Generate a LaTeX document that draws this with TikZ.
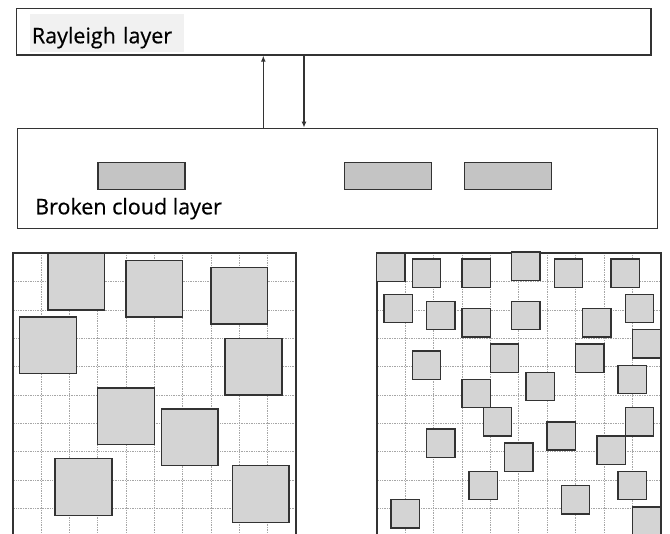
\documentclass[tikz,border=0pt]{standalone}
\usepackage{fontspec}
\setmainfont{Open Sans}
\newfontfamily\layerfont[FakeBold=0.5]{Open Sans}
\usepackage{xcolor}
\usepackage{tikz}
\usetikzlibrary{arrows.meta}

\definecolor{boxgray}{HTML}{333333}
\definecolor{cloudgray}{HTML}{C4C4C4}
\definecolor{cellgray}{HTML}{D4D4D4}
\definecolor{shadegray}{HTML}{F1F1F1}

\tikzset{
  layerbox/.style={draw=boxgray, line width=1.4pt, inner sep=0pt},
  layerlabel/.style={font=\layerfont\fontsize{21.5}{24}\selectfont, text=black, inner sep=0pt, anchor=base west},
  cloudbox/.style={draw=boxgray, fill=cloudgray, line width=1.4pt, inner sep=0pt, anchor=north west},
  arrowline/.style={draw=boxgray, line width=1.2pt},
  gridline/.style={gray!70, densely dotted, line width=0.7pt},
  panelframe/.style={draw=boxgray, line width=1.6pt},
  cell/.style={draw=boxgray, fill=cellgray, line width=1.4pt},
}

\begin{document}
\begin{tikzpicture}[x=1pt, y=-1pt, >={Latex[length=6pt, width=5pt]}]
    \useasboundingbox (0,0) rectangle (670,534);
    \clip (0,0) rectangle (670,534);

    % Upper layer and its label
    \node[layerbox, minimum width=634.3pt, minimum height=46.7pt] (rayleigh) at (333.85,31.65) {};
    \node[layerlabel, fill=shadegray, text width=150pt, align=left,
          text height=29pt, text depth=8.4pt, inner xsep=1.7pt] (rayleighlabel) at (30,43.3) {Rayleigh layer};

    % Lower layer with the broken clouds
    \node[layerbox, minimum width=640.4pt, minimum height=100pt] (broken) at (337.5,178.3) {};
    \node[layerlabel] (brokenlabel) at (35,214.3) {Broken cloud layer};
    \foreach \cx/\name in {97.3/cloudA, 343.8/cloudB, 464/cloudC}
        \node[cloudbox, minimum width=87pt, minimum height=26.7pt] (\name) at (\cx,162) {};

    % Exchange between the two layers
    \coordinate (upx) at (263.3,0);
    \coordinate (downx) at (304,0);
    \draw[->, arrowline] (broken.north -| upx) -- (rayleigh.south -| upx);
    \draw[->, arrowline] (rayleigh.south -| downx) -- (broken.north -| downx);

    % Left panel: few large cells
    \begin{scope}[shift={(12.7,253.3)}, x=28.33pt, y=-28.33pt]
        \foreach \k in {1,...,9} {
            \draw[gridline] (\k,0) -- (\k,10);
            \draw[gridline] (0,\k) -- (10,\k);
        }
        \draw[panelframe] (0,10) -- (0,0) -- (10,0) -- (10,10);
        \foreach \px/\py in {1.25/0, 4/0.25, 7/0.5, 0.25/2.25, 7.5/3,
                             3/4.75, 5.25/5.5, 1.5/7.25, 7.75/7.5}
            \draw[cell] (\px,\py) rectangle ++(2,2);
    \end{scope}

    % Right panel: many small cells
    \begin{scope}[shift={(376.7,253.3)}, x=28.4pt, y=-28.33pt]
        \foreach \k in {1,...,9} {
            \draw[gridline] (\k,0) -- (\k,10);
            \draw[gridline] (0,\k) -- (10,\k);
        }
        \draw[panelframe] (0,10) -- (0,0) -- (10,0) -- (10,10);
        \foreach \px/\py in {0/0, 1.25/0.2, 3/0.2, 4.75/-0.05, 6.25/0.2, 8.25/0.2,
                             0.25/1.45, 1.75/1.7, 3/1.95, 4.75/1.7, 7.25/1.95, 8.75/1.45,
                             9/2.7, 1.25/3.45, 4/3.2, 7/3.2, 8.5/3.95, 3/4.45, 5.25/4.2,
                             3.75/5.45, 8.75/5.45, 1.75/6.2, 6/5.95, 7.75/6.45, 4.5/6.7,
                             3.25/7.7, 8.5/7.7, 6.5/8.2, 0.5/8.7, 9/8.95}
            \draw[cell] (\px,\py) rectangle ++(1,1);
    \end{scope}
\end{tikzpicture}
\end{document}
